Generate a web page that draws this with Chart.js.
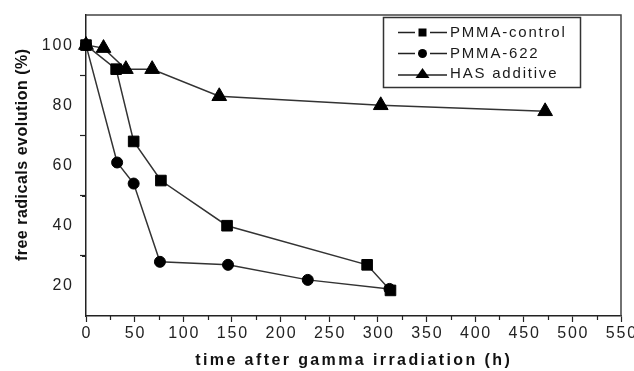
<!DOCTYPE html>
<html>
<head>
<meta charset="utf-8">
<script src="https://cdn.jsdelivr.net/npm/chart.js@4/dist/chart.umd.min.js"></script>
<style>
  html, body { margin: 0; padding: 0; background: #fff; }
  canvas { display: block; }
</style>
</head>
<body>
<canvas id="c" width="634" height="371"></canvas>
<script>
// ---- data ----
const seriesNames = ["PMMA-control", "PMMA-622", "HAS additive"];
const timeControl = [0, 31, 49, 77, 145, 289, 313];
const valControl  = [100, 92, 68, 55, 40, 27, 18.5];
const time622     = [0, 32, 49, 76, 146, 228, 312];
const val622      = [100, 61, 54, 28, 27, 22, 19];
const timeHAS     = [0, 18, 41, 68, 137, 303, 472];
const valHAS      = [100, 99, 92, 92, 83, 80, 78];
const xTickLabels = [0, 50, 100, 150, 200, 250, 300, 350, 400, 450, 500, 550];
const yTickLabels = [20, 40, 60, 80, 100];
const xTitle = "time after gamma irradiation (h)";
const yTitle = "free radicals evolution (%)";

const pts = (xs, ys) => xs.map((x, i) => ({ x: x, y: ys[i] }));
const pointStyles = ["rect", "circle", "triangle"];
const pointRadii = [7.5, 5.5, 8.5];

function spacedWidth(ctx, text, sp) {
  let w = 0;
  for (const ch of text) w += ctx.measureText(ch).width;
  return w + sp * (text.length - 1);
}
function drawSpaced(ctx, text, x, y, sp, align) {
  const w = spacedWidth(ctx, text, sp);
  let sx = x;
  if (align === "center") sx = x - w / 2;
  else if (align === "right") sx = x - w;
  ctx.textAlign = "left";
  for (const ch of text) {
    ctx.fillText(ch, sx, y);
    sx += ctx.measureText(ch).width + sp;
  }
}

const decor = {
  id: "decor",
  afterDraw(chart) {
    const ctx = chart.ctx, a = chart.chartArea;
    const xs = chart.scales.x, ys = chart.scales.y;
    ctx.save();
    // frame top/right
    ctx.strokeStyle = "#444";
    ctx.lineWidth = 1.5;
    ctx.beginPath();
    ctx.moveTo(a.left, a.top);
    ctx.lineTo(a.right, a.top);
    ctx.lineTo(a.right, a.bottom);
    ctx.stroke();
    // minor ticks
    ctx.strokeStyle = "#222";
    ctx.lineWidth = 1.2;
    ctx.beginPath();
    for (let v = 25; v < 550; v += 50) {
      const px = Math.round(xs.getPixelForValue(v)) + 0.5;
      ctx.moveTo(px, a.bottom); ctx.lineTo(px, a.bottom + 4);
    }
    for (let v = 30; v < 100; v += 20) {
      const py = Math.round(ys.getPixelForValue(v)) + 0.5;
      ctx.moveTo(a.left, py); ctx.lineTo(a.left - 4, py);
    }
    ctx.stroke();
    // tick labels
    ctx.fillStyle = "#222";
    ctx.font = "16px 'Liberation Sans', Arial, sans-serif";
    ctx.textBaseline = "middle";
    xTickLabels.forEach(v => {
      drawSpaced(ctx, String(v), xs.getPixelForValue(v), 334, 1.8, "center");
    });
    yTickLabels.forEach(v => {
      drawSpaced(ctx, String(v), 72, ys.getPixelForValue(v), 1.8, "right");
    });
    // axis titles
    ctx.fillStyle = "#111";
    ctx.font = "bold 16px 'Liberation Sans', Arial, sans-serif";
    drawSpaced(ctx, xTitle, 352.5, 361, 2.4, "center");
    ctx.save();
    ctx.translate(23, 155);
    ctx.rotate(-Math.PI / 2);
    drawSpaced(ctx, yTitle, 0, 0, 0.5, "center");
    ctx.restore();
    // legend
    ctx.strokeStyle = "#333";
    ctx.lineWidth = 1.5;
    ctx.strokeRect(383.5, 17.5, 197, 70);
    const rows = [32.5, 53.5, 75];
    ctx.font = "15px 'Liberation Sans', Arial, sans-serif";
    seriesNames.forEach((name, i) => {
      const y = rows[i];
      const cx = 422.5;
      ctx.strokeStyle = "#222";
      ctx.lineWidth = 1.5;
      ctx.beginPath();
      if (i < 2) {
        ctx.moveTo(398, y); ctx.lineTo(415, y);
        ctx.moveTo(430, y); ctx.lineTo(447, y);
      } else {
        ctx.moveTo(398, y); ctx.lineTo(447, y);
      }
      ctx.stroke();
      ctx.fillStyle = "#000";
      ctx.beginPath();
      if (i === 0) { ctx.rect(cx - 4, y - 4, 8, 8); }
      else if (i === 1) { ctx.arc(cx, y, 4.5, 0, Math.PI * 2); }
      else { ctx.moveTo(cx, y - 7); ctx.lineTo(cx + 7, y + 3); ctx.lineTo(cx - 7, y + 3); ctx.closePath(); }
      ctx.fill();
      ctx.fillStyle = "#1a1a1a";
      drawSpaced(ctx, name, 450, i === 2 ? y - 1.5 : y + 0.5, 1.8, "left");
    });
    ctx.restore();
  }
};

const mkDs = (label, xs, ys, i) => ({
  label: label,
  data: pts(xs, ys),
  showLine: true,
  tension: 0,
  borderColor: "#333",
  borderWidth: 1.5,
  pointStyle: pointStyles[i],
  pointRadius: pointRadii[i],
  pointHoverRadius: pointRadii[i],
  pointBackgroundColor: "#000",
  pointBorderColor: "#000",
  pointBorderWidth: 1,
  clip: false
});

new Chart(document.getElementById("c"), {
  type: "scatter",
  data: {
    datasets: [
      mkDs(seriesNames[0], timeControl, valControl, 0),
      mkDs(seriesNames[1], time622, val622, 1),
      mkDs(seriesNames[2], timeHAS, valHAS, 2)
    ]
  },
  options: {
    responsive: false,
    devicePixelRatio: 1,
    animation: false,
    layout: { padding: { left: 0, right: 13, top: 15, bottom: 0 } },
    plugins: { legend: { display: false }, tooltip: { enabled: false } },
    scales: {
      x: {
        type: "linear",
        min: 0, max: 550,
        ticks: { stepSize: 50, display: false },
        grid: { drawOnChartArea: false, drawTicks: true, tickLength: 6, tickColor: "#222", tickWidth: 1.2 },
        border: { display: true, color: "#222", width: 1.5 },
        afterFit(s) { s.height = 55; }
      },
      y: {
        type: "linear",
        min: 10, max: 110,
        ticks: { stepSize: 20, display: false },
        grid: {
          drawOnChartArea: false, drawTicks: true, tickLength: 6, tickWidth: 1.2,
          tickColor: (c) => (c.tick && (c.tick.value === 10 || c.tick.value === 110)) ? "rgba(0,0,0,0)" : "#222"
        },
        border: { display: true, color: "#222", width: 1.5 },
        afterFit(s) { s.width = 86; }
      }
    }
  },
  plugins: [decor]
});
</script>
</body>
</html>
